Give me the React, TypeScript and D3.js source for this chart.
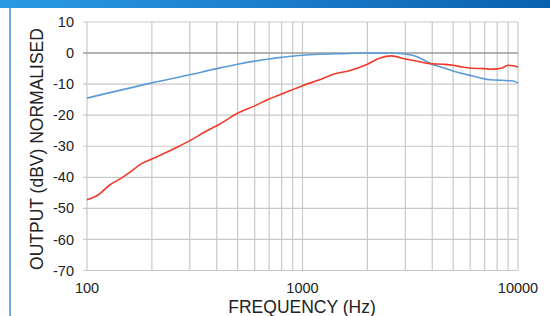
import React from "react";
import * as d3 from "d3";

const yTicks = [10, 0, -10, -20, -30, -40, -50, -60, -70];
const xLabels = [100, 1000, 10000];

const blueFreq = [100, 200, 300, 400, 500, 600, 700, 800, 1000, 1200, 1500, 2000, 2500, 3000, 3300, 3600, 3900, 4500, 5000, 5500, 6100, 7000, 7400, 8000, 9000, 9500, 10000];
const blueDb = [-14.5, -9.6, -7, -5.0, -3.6, -2.6, -1.9, -1.4, -0.7, -0.4, -0.2, 0, 0, -0.3, -0.9, -2.0, -3.3, -4.7, -5.8, -6.6, -7.3, -8.3, -8.6, -8.7, -8.9, -9.0, -9.7];

const redFreq = [100, 113, 128, 145, 158, 179, 200, 230, 260, 300, 360, 400, 500, 600, 700, 800, 1000, 1200, 1390, 1650, 2000, 2290, 2580, 3000, 3500, 3900, 4500, 5000, 5500, 6100, 7000, 7400, 8000, 8500, 9000, 9500, 10000];
const redDb = [-47.2, -45.6, -42.4, -40.2, -38.4, -35.6, -34.1, -32.2, -30.4, -28.2, -25, -23.4, -19.4, -17, -14.8, -13.2, -10.5, -8.6, -6.8, -5.7, -3.6, -1.6, -0.9, -1.9, -2.8, -3.4, -3.6, -3.9, -4.5, -4.9, -5.0, -5.2, -5.1, -4.7, -3.9, -4.1, -4.5];

export default function App() {
  const W = 550, H = 316;
  const x = d3.scaleLog().domain([100, 10000]).range([87, 518]);
  const y = d3.scaleLinear().domain([-70, 10]).range([270.5, 22]);

  const vGrid: number[] = [];
  for (let d = 100; d <= 1000; d *= 10) for (let k = 1; k <= 10; k++) vGrid.push(d * k);
  const vLines = Array.from(new Set(vGrid)).filter(v => v <= 10000);

  const line = d3.line<[number, number]>()
    .x(d => x(d[0]))
    .y(d => y(d[1]))
    .curve(d3.curveMonotoneX);

  const blue = line(blueFreq.map((f, i) => [f, blueDb[i]] as [number, number])) || "";
  const red = line(redFreq.map((f, i) => [f, redDb[i]] as [number, number])) || "";

  const font = "'Liberation Sans', Arial, Helvetica, sans-serif";

  return (
    <svg width={W} height={H} style={{ position: "absolute", left: 0, top: 0, background: "#fff" }}>
      <defs>
        <linearGradient id="hdr" x1="0" x2="1" y1="0" y2="0">
          <stop offset="0" stopColor="#2a9ae6" />
          <stop offset="1" stopColor="#0a60b0" />
        </linearGradient>
      </defs>
      <rect x={0} y={0} width={W} height={8} fill="url(#hdr)" />
      <line x1={10} x2={10} y1={8} y2={H} stroke="#4a93da" strokeWidth={1.6} />

      {vLines.map(v => (
        <line key={"v" + v} x1={x(v)} x2={x(v)} y1={y(10)} y2={y(-70)} stroke="#c8c8c8" strokeWidth={1.2} />
      ))}
      {yTicks.map(t => (
        <g key={"h" + t}>
          <line x1={83} x2={x(10000)} y1={y(t)} y2={y(t)} stroke={t === 0 ? "#9a9a9a" : "#c8c8c8"} strokeWidth={t === 0 ? 1.5 : 1.2} />
          <text x={74} y={y(t)} dy="0.35em" textAnchor="end" fontFamily={font} fontSize={14.5} fill="#222">{t}</text>
        </g>
      ))}
      {xLabels.map(v => (
        <text key={"xl" + v} x={x(v)} y={293} textAnchor="middle" fontFamily={font} fontSize={14.5} fill="#222">{v}</text>
      ))}

      <path d={blue} fill="none" stroke="#5b9bd8" strokeWidth={1.6} />
      <path d={red} fill="none" stroke="#f03a2a" strokeWidth={1.6} />

      <text x={302} y={313} textAnchor="middle" fontFamily={font} fontSize={17.5} fill="#222">FREQUENCY (Hz)</text>
      <text transform="translate(43,149) rotate(-90)" textAnchor="middle" fontFamily={font} fontSize={17.5} fill="#222">OUTPUT (dBV) NORMALISED</text>
    </svg>
  );
}
